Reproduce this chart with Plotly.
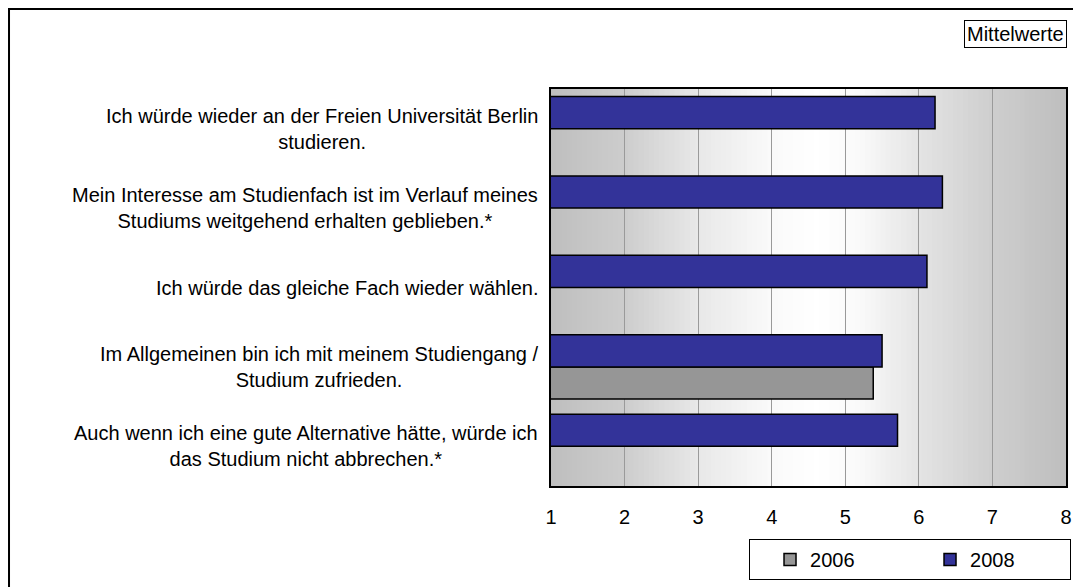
import numpy as np
import plotly.graph_objects as go

# statements, top to bottom
statements = [
    "Ich würde wieder an der Freien Universität Berlin<br>studieren.",
    "Mein Interesse am Studienfach ist im Verlauf meines<br>Studiums weitgehend erhalten geblieben.*",
    "Ich würde das gleiche Fach wieder wählen.",
    "Im Allgemeinen bin ich mit meinem Studiengang /<br>Studium zufrieden.",
    "Auch wenn ich eine gute Alternative hätte, würde ich<br>das Studium nicht abbrechen.*",
]
cat_ids = ["s1", "s2", "s3", "s4", "s5"]
values_2006 = [None, None, None, 5.38, None]
values_2008 = [6.22, 6.32, 6.11, 5.50, 5.71]
x_ticks = [1, 2, 3, 4, 5, 6, 7, 8]

FONT = "Liberation Sans, Arial, sans-serif"
FS = 20

fig = go.Figure()
fig.add_trace(go.Bar(
    y=cat_ids, x=values_2006, orientation="h", name="2006",
    marker=dict(color="#969696", line=dict(color="black", width=1.5)),
))
fig.add_trace(go.Bar(
    y=cat_ids, x=values_2008, orientation="h", name="2008",
    marker=dict(color="#333399", line=dict(color="black", width=1.5)),
))

# grey - white - grey background gradient behind the gridlines
shade_x = [1, 2, 3, 4, 4.6, 5.2, 6, 7, 8]
shade_v = [190, 205, 232, 250, 255, 250, 228, 206, 190]
edges = np.linspace(1, 8, 101)
for a, b in zip(edges[:-1], edges[1:]):
    g = int(round(np.interp((a + b) / 2, shade_x, shade_v)))
    fig.add_shape(type="rect", xref="x", yref="y domain", x0=a, x1=min(b + 0.04, 8), y0=0, y1=1,
                  fillcolor=f"rgb({g},{g},{g})", line=dict(width=0), layer="below")

# category labels, centred lines, right aligned block
for cid, txt in zip(cat_ids, statements):
    fig.add_annotation(x=0, xref="paper", y=cid, yref="y", text=txt,
                       xanchor="right", align="center", showarrow=False,
                       xshift=-11, font=dict(family=FONT, size=FS, color="black"))

fig.add_annotation(x=1, xref="paper", y=1.175, yref="paper", text="Mittelwerte",
                   xanchor="right", yanchor="top", showarrow=False,
                   bordercolor="black", borderwidth=1, borderpad=2, bgcolor="white",
                   xshift=1, font=dict(family=FONT, size=FS, color="black"))

# outer chart frame (only left/top edges fall inside the picture)
fig.add_shape(type="rect", xref="paper", yref="paper", x0=-1.0524, x1=1.2,
              y0=-0.4, y1=1.2015, line=dict(color="black", width=2), layer="above")

# page body has an 8px margin, so the figure is 8px smaller than the window
fig.update_layout(
    width=1073, height=579,
    margin=dict(l=543, r=15, t=81, b=101, autoexpand=False),
    paper_bgcolor="white", plot_bgcolor="white",
    barmode="group", bargap=0.19, bargroupgap=0,
    font=dict(family=FONT, size=FS, color="black"),
    showlegend=True,
    legend=dict(orientation="h", x=0.3845, xanchor="left", y=-0.1335, yanchor="top",
                traceorder="normal", bordercolor="black", borderwidth=1, bgcolor="white",
                entrywidth=95, indentation=20,
                font=dict(family=FONT, size=FS, color="black")),
)
fig.update_xaxes(range=[1, 8], tickvals=x_ticks, showgrid=True, gridcolor="#9a9a9a",
                 gridwidth=1, zeroline=False, showline=True, linecolor="black",
                 linewidth=2, mirror=True, ticks="", ticklabelstandoff=12)
fig.update_yaxes(categoryorder="array", categoryarray=cat_ids[::-1],
                 showticklabels=False, showgrid=False, zeroline=False,
                 showline=True, linecolor="black", linewidth=2, mirror=True, ticks="")

fig.write_html("out.html")
